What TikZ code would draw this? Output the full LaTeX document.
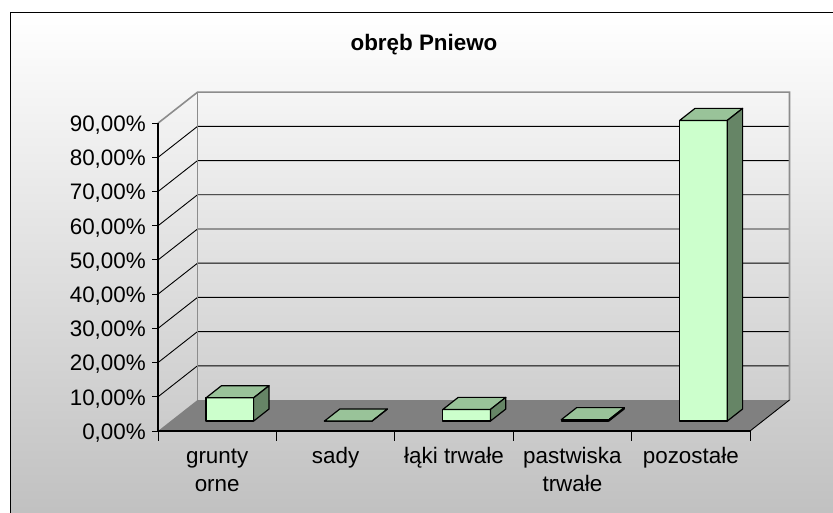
\documentclass[tikz,border=0pt]{standalone}
\usepackage{fontspec}
\setmainfont{Liberation Sans}
\usetikzlibrary{positioning}
\definecolor{barfront}{HTML}{CCFFCC}
\definecolor{bartop}{HTML}{99C399}
\definecolor{barside}{HTML}{668566}
\definecolor{floorgray}{HTML}{808080}
\definecolor{wallgray}{HTML}{8C8C8C}

\begin{document}
\begin{tikzpicture}[x=1pt, y=-1pt,
    chartfont/.style={font=\fontsize{22.4}{28.4}\selectfont},
    gridline/.style={black, line width=0.9pt},
    wallline/.style={wallgray, line width=1.6pt},
    barface/.style={draw=black, line width=1.2pt, line join=round},
    ylabel/.style={chartfont, anchor=base east, inner sep=0pt},
    xlabel/.style={chartfont, anchor=base, inner sep=0pt, align=center}]
    \useasboundingbox (0,0) rectangle (833,513);
    \clip (0,0) rectangle (833,513);

    % Background
    \shade [top color=white, bottom color=gray!50] (10,13) rectangle (845,525);
    \draw [line width=1pt] (10,525) -- (10,13) -- (845,13);

    % Title
    \node [font=\fontsize{22.4}{28}\selectfont\bfseries, anchor=base, inner sep=0pt] (title) at (424,50.5) {obręb Pniewo};

    % Grid on the walls
    \foreach \k in {1,...,8} {
        \draw [gridline] (158,{431-34.2*\k}) -- (197.5,{400-34.2*\k}) -- (789.5,{400-34.2*\k});
    }
    \draw [wallline] (158,123.2) -- (197.5,92.2) -- (789.5,92.2) -- (789.5,400);
    \draw [wallline] (197.5,92.2) -- (197.5,400);

    % Floor
    \fill [floorgray] (158,431) -- (750,431) -- (789.5,400) -- (197.5,400) -- cycle;
    \draw [gridline] (750,431) -- (789.5,400);

    % Bars
    \foreach \v [count=\i from 0] in {6.8,0,3.4,0.4,87.9} {
        \pgfmathsetmacro\xl{158+118.4*(\i+0.5)-23.8+12.64}
        \pgfmathsetmacro\xr{\xl+47.6}
        \pgfmathsetmacro\yt{421.08-3.42*\v}
        \filldraw [barface, fill=barfront] (\xl,421.08) rectangle (\xr,\yt);
        \filldraw [barface, fill=bartop] (\xl,\yt) -- (\xr,\yt) -- ++(15.4,-12.1) -- ({\xl+15.4},{\yt-12.1}) -- cycle;
        \filldraw [barface, fill=barside] (\xr,421.08) -- (\xr,\yt) -- ++(15.4,-12.1) -- ({\xr+15.4},{421.08-12.1}) -- cycle;
    }

    % Axes
    \draw [line width=1.2pt] (158,123.2) -- (158,431) -- (750,431);
    \foreach \k in {0,...,9} {
        \draw [line width=1pt] (152,{431-34.2*\k}) -- (158,{431-34.2*\k});
        \node [ylabel] (y\k) at (146,{439.3-34.2*\k}) {\ifnum\k=0 0\else\k0\fi,00\%};
    }
    \foreach \k in {0,...,5} {
        \draw [line width=1pt] ({158+118.4*\k},431) -- ++(0,10);
    }

    % Category labels (base = last line)
    \foreach \t/\yb [count=\i from 0] in {{grunty\\orne}/491.5, sady/463.5, łąki trwałe/463.5, {pastwiska\\trwałe}/491.5, pozostałe/463.5} {
        \node [xlabel] (cat\i) at ({158+118.4*(\i+0.5)},\yb) {\t};
    }
\end{tikzpicture}
\end{document}
